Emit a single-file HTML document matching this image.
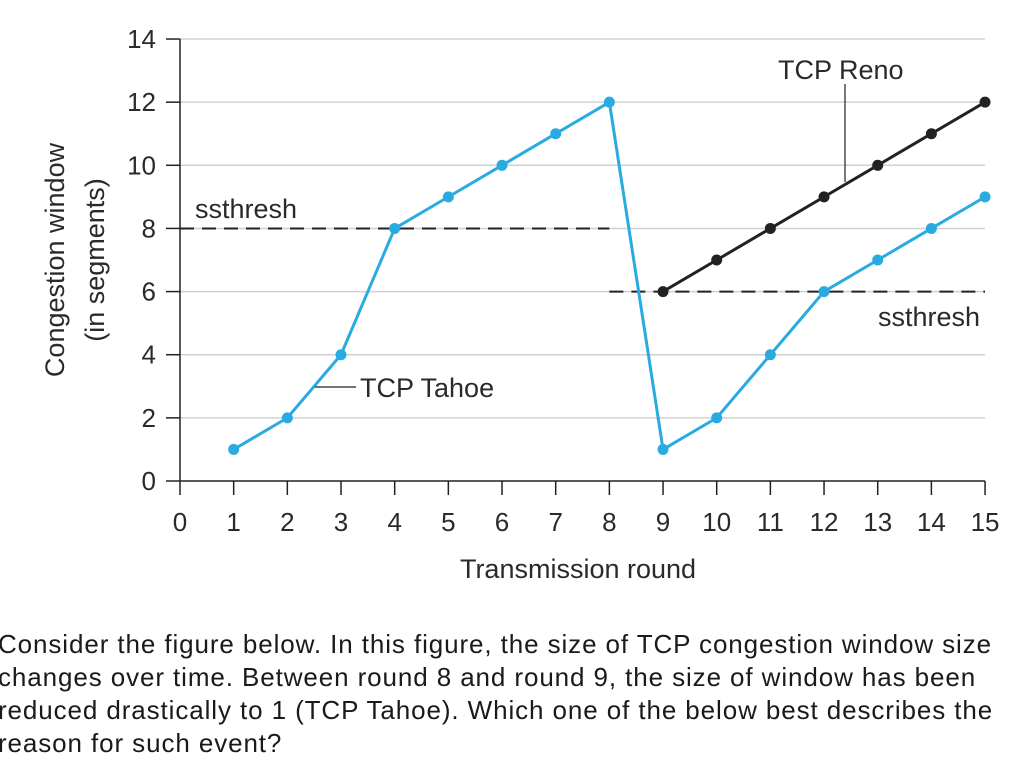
<!DOCTYPE html>
<html><head><meta charset="utf-8"><style>
body{margin:0;background:#fff;width:1024px;height:784px;overflow:hidden;font-family:"Liberation Sans",sans-serif}
#q{position:absolute;left:-2px;top:628px;font-size:26px;line-height:33px;color:#1a1a1a;width:1040px;white-space:nowrap;letter-spacing:0.9px}
</style></head><body>
<svg id="chart" width="1024" height="620" style="position:absolute;left:0;top:0" font-family="Liberation Sans, sans-serif"></svg>
<div id="q">Consider the figure below. In this figure, the size of TCP congestion window size<br>changes over time. Between round 8 and round 9, the size of window has been<br>reduced drastically to 1 (TCP Tahoe). Which one of the below best describes the<br>reason for such event?</div>
<script>
const tahoeX=[1,2,3,4,5,6,7,8,9,10,11,12,13,14,15];
const tahoeY=[1,2,4,8,9,10,11,12,1,2,4,6,7,8,9];
const renoX=[9,10,11,12,13,14,15];
const renoY=[6,7,8,9,10,11,12];
const yTicks=[0,2,4,6,8,10,12,14];
const xTicks=[0,1,2,3,4,5,6,7,8,9,10,11,12,13,14,15];
const ssthresh1=8, ssthresh2=6;
const X=v=>180+v*53.67, Y=v=>481-v*31.57;
const svg=document.getElementById('chart');
const NS='http://www.w3.org/2000/svg';
function mk(t,a,txt){const e=document.createElementNS(NS,t);for(const k in a)e.setAttribute(k,a[k]);if(txt!==undefined)e.textContent=txt;svg.appendChild(e);return e;}
yTicks.forEach(v=>{if(v>0){const g=mk('line',{x1:180,x2:985,y1:Y(v),y2:Y(v),stroke:'#d0d0d0','stroke-width':1.5});}
const t=mk('line',{x1:166,x2:180,y1:Y(v),y2:Y(v),stroke:'#222','stroke-width':1.5});
const l=mk('text',{x:156,y:Y(v)+9,'text-anchor':'end','font-size':26,fill:'#2a2a2a'},v);});
xTicks.forEach(v=>{const t=mk('line',{x1:X(v),x2:X(v),y1:481,y2:495,stroke:'#222','stroke-width':1.5});
const l=mk('text',{x:X(v),y:531,'text-anchor':'middle','font-size':26,fill:'#2a2a2a'},v);});
let a=mk('line',{x1:180,x2:180,y1:Y(14),y2:481,stroke:'#222','stroke-width':1.5});
a=mk('line',{x1:180,x2:X(15),y1:481,y2:481,stroke:'#222','stroke-width':1.5});
let d=mk('line',{x1:180,x2:X(8),y1:Y(ssthresh1),y2:Y(ssthresh1),stroke:'#222','stroke-width':2,'stroke-dasharray':'14,8'});
d=mk('line',{x1:X(8),x2:X(15),y1:Y(ssthresh2),y2:Y(ssthresh2),stroke:'#222','stroke-width':2,'stroke-dasharray':'14,8'});
function series(xs,ys,c,n){const p=mk('polyline',{points:xs.map((x,i)=>X(x)+','+Y(ys[i])).join(' '),fill:'none',stroke:c,'stroke-width':3});
xs.forEach((x,i)=>{const c2=mk('circle',{cx:X(x),cy:Y(ys[i]),r:5.5,fill:c});});}
series(tahoeX,tahoeY,'#29abe2','tahoe');
series(renoX,renoY,'#222','reno');
let l=mk('line',{x1:845,x2:845,y1:84,y2:182,stroke:'#222','stroke-width':1.2});
l=mk('line',{x1:315,x2:356,y1:387,y2:387,stroke:'#222','stroke-width':1.2});
const labels=[['TCP Reno',778,79,'reno-label','start'],['TCP Tahoe',360,397,'tahoe-label','start'],['ssthresh',195,218,'ssthresh-label-1','start'],['ssthresh',980,326,'ssthresh-label-2','end'],['Transmission round',578,578,'x-axis-title','middle']];
labels.forEach(s=>{const t=mk('text',{x:s[1],y:s[2],'font-size':27,fill:'#2a2a2a','text-anchor':s[4]},s[0]);});
let t=mk('text',{x:0,y:0,'font-size':27,fill:'#2a2a2a','text-anchor':'middle',transform:'translate(64,260) rotate(-90)'},'Congestion window');
t=mk('text',{x:0,y:0,'font-size':27,fill:'#2a2a2a','text-anchor':'middle',transform:'translate(104,260) rotate(-90)'},'(in segments)');
</script>
</body></html>
